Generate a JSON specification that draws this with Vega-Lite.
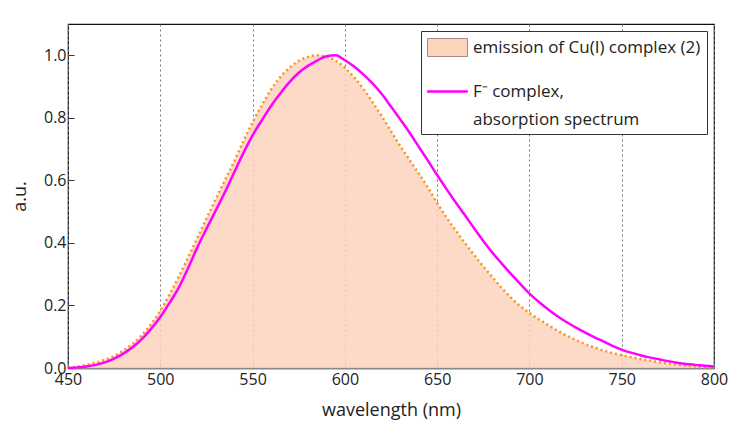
{
  "$schema": "https://vega.github.io/schema/vega-lite/v6.json",
  "width": 646,
  "height": 344,
  "autosize": {"type": "none"},
  "padding": {"left": 68, "top": 24, "right": 17, "bottom": 60},
  "background": "white",
  "config": {
    "font": "Open Sans",
    "view": {"stroke": "#111", "strokeWidth": 1.2},
    "axis": {"labelFont": "Open Sans", "titleFont": "Open Sans", "labelColor": "#222", "titleColor": "#222", "titleFontWeight": "normal"}
  },
  "data": {"values": [
    {"nm":450,"v":0.0,"s":"em"},{"nm":455,"v":0.004,"s":"em"},{"nm":460,"v":0.01,"s":"em"},{"nm":465,"v":0.017,"s":"em"},{"nm":470,"v":0.026,"s":"em"},{"nm":475,"v":0.038,"s":"em"},{"nm":480,"v":0.056,"s":"em"},{"nm":485,"v":0.077,"s":"em"},{"nm":490,"v":0.105,"s":"em"},{"nm":495,"v":0.14,"s":"em"},{"nm":500,"v":0.183,"s":"em"},{"nm":505,"v":0.235,"s":"em"},{"nm":510,"v":0.292,"s":"em"},{"nm":515,"v":0.353,"s":"em"},{"nm":520,"v":0.415,"s":"em"},{"nm":525,"v":0.478,"s":"em"},{"nm":530,"v":0.54,"s":"em"},{"nm":535,"v":0.6,"s":"em"},{"nm":540,"v":0.66,"s":"em"},{"nm":545,"v":0.725,"s":"em"},{"nm":550,"v":0.785,"s":"em"},{"nm":555,"v":0.84,"s":"em"},{"nm":560,"v":0.89,"s":"em"},{"nm":565,"v":0.93,"s":"em"},{"nm":570,"v":0.96,"s":"em"},{"nm":575,"v":0.982,"s":"em"},{"nm":580,"v":0.995,"s":"em"},{"nm":585,"v":1.0,"s":"em"},{"nm":590,"v":0.995,"s":"em"},{"nm":595,"v":0.983,"s":"em"},{"nm":600,"v":0.96,"s":"em"},{"nm":605,"v":0.93,"s":"em"},{"nm":610,"v":0.893,"s":"em"},{"nm":615,"v":0.85,"s":"em"},{"nm":620,"v":0.805,"s":"em"},{"nm":625,"v":0.757,"s":"em"},{"nm":630,"v":0.71,"s":"em"},{"nm":635,"v":0.666,"s":"em"},{"nm":640,"v":0.622,"s":"em"},{"nm":645,"v":0.577,"s":"em"},{"nm":650,"v":0.528,"s":"em"},{"nm":655,"v":0.482,"s":"em"},{"nm":660,"v":0.44,"s":"em"},{"nm":665,"v":0.4,"s":"em"},{"nm":670,"v":0.362,"s":"em"},{"nm":675,"v":0.325,"s":"em"},{"nm":680,"v":0.29,"s":"em"},{"nm":685,"v":0.256,"s":"em"},{"nm":690,"v":0.225,"s":"em"},{"nm":695,"v":0.198,"s":"em"},{"nm":700,"v":0.176,"s":"em"},{"nm":705,"v":0.156,"s":"em"},{"nm":710,"v":0.138,"s":"em"},{"nm":715,"v":0.12,"s":"em"},{"nm":720,"v":0.104,"s":"em"},{"nm":725,"v":0.09,"s":"em"},{"nm":730,"v":0.077,"s":"em"},{"nm":735,"v":0.066,"s":"em"},{"nm":740,"v":0.056,"s":"em"},{"nm":745,"v":0.048,"s":"em"},{"nm":750,"v":0.041,"s":"em"},{"nm":755,"v":0.035,"s":"em"},{"nm":760,"v":0.029,"s":"em"},{"nm":765,"v":0.024,"s":"em"},{"nm":770,"v":0.019,"s":"em"},{"nm":775,"v":0.015,"s":"em"},{"nm":780,"v":0.011,"s":"em"},{"nm":785,"v":0.008,"s":"em"},{"nm":790,"v":0.005,"s":"em"},{"nm":795,"v":0.003,"s":"em"},{"nm":800,"v":0.001,"s":"em"},
    {"nm":450,"v":0.0,"s":"ab"},{"nm":455,"v":0.002,"s":"ab"},{"nm":460,"v":0.005,"s":"ab"},{"nm":465,"v":0.01,"s":"ab"},{"nm":470,"v":0.018,"s":"ab"},{"nm":475,"v":0.03,"s":"ab"},{"nm":480,"v":0.046,"s":"ab"},{"nm":485,"v":0.066,"s":"ab"},{"nm":490,"v":0.092,"s":"ab"},{"nm":495,"v":0.125,"s":"ab"},{"nm":500,"v":0.163,"s":"ab"},{"nm":505,"v":0.208,"s":"ab"},{"nm":510,"v":0.257,"s":"ab"},{"nm":515,"v":0.318,"s":"ab"},{"nm":520,"v":0.385,"s":"ab"},{"nm":525,"v":0.445,"s":"ab"},{"nm":530,"v":0.503,"s":"ab"},{"nm":535,"v":0.562,"s":"ab"},{"nm":540,"v":0.625,"s":"ab"},{"nm":545,"v":0.687,"s":"ab"},{"nm":550,"v":0.744,"s":"ab"},{"nm":555,"v":0.792,"s":"ab"},{"nm":560,"v":0.838,"s":"ab"},{"nm":565,"v":0.878,"s":"ab"},{"nm":570,"v":0.914,"s":"ab"},{"nm":575,"v":0.944,"s":"ab"},{"nm":580,"v":0.966,"s":"ab"},{"nm":585,"v":0.983,"s":"ab"},{"nm":590,"v":0.997,"s":"ab"},{"nm":595,"v":1.0,"s":"ab"},{"nm":600,"v":0.984,"s":"ab"},{"nm":605,"v":0.964,"s":"ab"},{"nm":610,"v":0.939,"s":"ab"},{"nm":615,"v":0.91,"s":"ab"},{"nm":620,"v":0.876,"s":"ab"},{"nm":625,"v":0.836,"s":"ab"},{"nm":630,"v":0.795,"s":"ab"},{"nm":635,"v":0.753,"s":"ab"},{"nm":640,"v":0.708,"s":"ab"},{"nm":645,"v":0.663,"s":"ab"},{"nm":650,"v":0.617,"s":"ab"},{"nm":655,"v":0.573,"s":"ab"},{"nm":660,"v":0.53,"s":"ab"},{"nm":665,"v":0.489,"s":"ab"},{"nm":670,"v":0.447,"s":"ab"},{"nm":675,"v":0.406,"s":"ab"},{"nm":680,"v":0.368,"s":"ab"},{"nm":685,"v":0.334,"s":"ab"},{"nm":690,"v":0.301,"s":"ab"},{"nm":695,"v":0.269,"s":"ab"},{"nm":700,"v":0.238,"s":"ab"},{"nm":705,"v":0.212,"s":"ab"},{"nm":710,"v":0.188,"s":"ab"},{"nm":715,"v":0.166,"s":"ab"},{"nm":720,"v":0.147,"s":"ab"},{"nm":725,"v":0.13,"s":"ab"},{"nm":730,"v":0.114,"s":"ab"},{"nm":735,"v":0.099,"s":"ab"},{"nm":740,"v":0.085,"s":"ab"},{"nm":745,"v":0.071,"s":"ab"},{"nm":750,"v":0.059,"s":"ab"},{"nm":755,"v":0.049,"s":"ab"},{"nm":760,"v":0.041,"s":"ab"},{"nm":765,"v":0.034,"s":"ab"},{"nm":770,"v":0.028,"s":"ab"},{"nm":775,"v":0.022,"s":"ab"},{"nm":780,"v":0.017,"s":"ab"},{"nm":785,"v":0.013,"s":"ab"},{"nm":790,"v":0.01,"s":"ab"},{"nm":795,"v":0.007,"s":"ab"},{"nm":800,"v":0.005,"s":"ab"}
  ]},
  "encoding": {
    "x": {"field": "nm", "type": "quantitative", "scale": {"domain": [450, 800], "nice": false, "zero": false},
      "axis": {"title": "wavelength (nm)", "values": [450,500,550,600,650,700,750,800], "labelFontSize": 16, "titleFontSize": 18, "titlePadding": 14,
        "labelFlush": false, "grid": true, "gridDash": [2,3], "gridColor": "#777", "gridWidth": 1, "tickSize": -5, "tickColor": "#777", "labelPadding": 8,
        "domainColor": "#888", "domainWidth": 2}},
    "y": {"field": "v", "type": "quantitative", "scale": {"domain": [0, 1.1], "nice": false},
      "axis": {"title": "a.u.", "values": [0,0.2,0.4,0.6,0.8,1.0], "format": ".1f", "labelFontSize": 16, "titleFontSize": 18, "titlePadding": 14,
        "labelFlush": false, "grid": false, "tickSize": -6, "tickColor": "#333", "labelPadding": 8, "domain": false}}
  },
  "layer": [
    {
      "transform": [{"filter": "datum.s == 'em'"}],
      "mark": {"type": "area", "color": "#FCD3BD", "opacity": 0.85, "interpolate": "monotone"}
    },
    {
      "transform": [{"filter": "datum.s == 'em'"}],
      "mark": {"type": "line", "color": "#F7931E", "strokeWidth": 2.5, "strokeDash": [2, 3], "strokeCap": "butt", "interpolate": "monotone"}
    },
    {
      "transform": [{"filter": "datum.s == 'ab'"}],
      "mark": {"type": "line", "strokeWidth": 2.5, "interpolate": "monotone"},
      "encoding": {
        "stroke": {"field": "s", "type": "nominal",
          "scale": {"domain": ["em", "ab"], "range": ["#A08E84", "#FF00FF"]},
          "legend": {
            "title": null, "orient": "top-right", "offset": 7, "padding": 6,
            "strokeColor": "#333", "fillColor": "white", "cornerRadius": 0,
            "labelFontSize": 17, "labelColor": "#222", "labelFont": "Open Sans", "labelLimit": 400, "rowPadding": 22, "symbolOffset": 10,
            "symbolSize": 400, "labelOffset": 15, "symbolType": "M-2,-0.9H2V0.9H-2Z", "symbolFillColor": "#FCD3BD", "symbolStrokeWidth": 1,
            "labelExpr": "datum.value == 'em' ? 'emission of Cu(I) complex (2)' : ['F⁻ complex,', 'absorption  spectrum']",
            "encode": {
              "symbols": {"update": {
                "shape": {"signal": "datum.value == 'em' ? 'M-2,-0.9H2V0.9H-2Z' : 'M-2,-0.07H2V0.07H-2Z'"},
                "fill": {"signal": "datum.value == 'em' ? '#FCD3BD' : '#FF00FF'"},
                "opacity": {"value": 1}
              }},
              "labels": {"update": {"lineHeight": {"value": 28}}}
            }
          }}
      }
    }
  ]
}
